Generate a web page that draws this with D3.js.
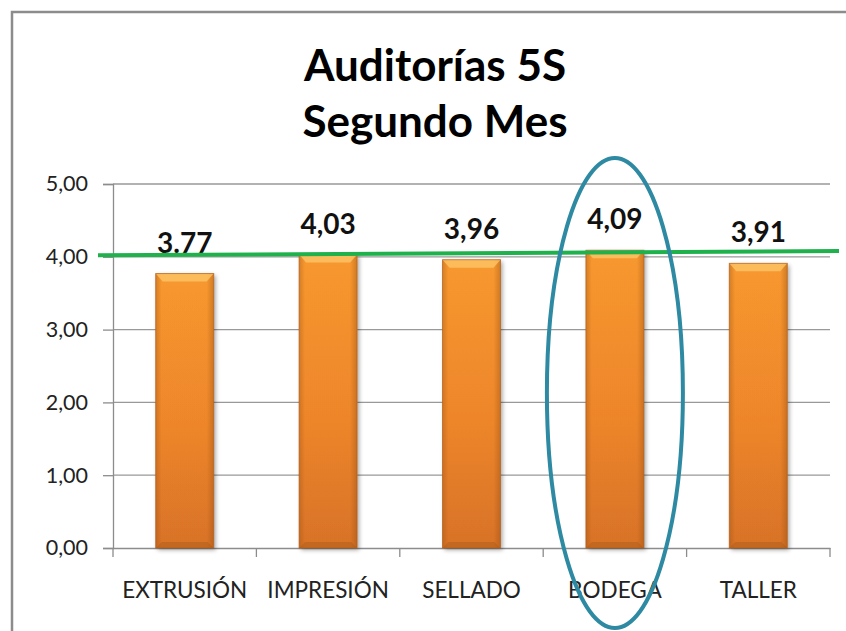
<!DOCTYPE html>
<html>
<head>
<meta charset="utf-8">
<script src="https://cdn.jsdelivr.net/npm/d3@7"></script>
<style>
  html, body { margin: 0; padding: 0; background: #fff; }
  svg { display: block; }
  .tick text { font-family: Lato, "Open Sans", sans-serif; fill: #222; }
</style>
</head>
<body>
<div id="chart"></div>
<script>
(function(){
"use strict";

var categories = ["EXTRUSIÓN", "IMPRESIÓN", "SELLADO", "BODEGA", "TALLER"];
var values = [3.77, 4.03, 3.96, 4.09, 3.91];
var labels = ["3.77", "4,03", "3,96", "4,09", "3,91"];
var yTicks = [0, 1, 2, 3, 4, 5];
var targetLine = [4.02, 4.08]; // green line, slightly tilted in the picture
var highlight = "BODEGA";

var width = 846, height = 631;
var margin = {top: 184, right: 16, bottom: 83, left: 113};
var fmt = function(d){ return d3.format(".2f")(d).replace(".", ","); };

var svg = d3.select("#chart").append("svg")
  .attr("width", width).attr("height", height);

var defs = svg.append("defs");
var g1 = defs.append("linearGradient").attr("id", "barFill")
  .attr("x1", 0).attr("y1", 0).attr("x2", 0).attr("y2", 1);
g1.append("stop").attr("offset", "0%").attr("stop-color", "#fd9c30");
g1.append("stop").attr("offset", "55%").attr("stop-color", "#f3892c");
g1.append("stop").attr("offset", "100%").attr("stop-color", "#dc7428");
var g2 = defs.append("linearGradient").attr("id", "barSide")
  .attr("x1", 0).attr("y1", 0).attr("x2", 1).attr("y2", 0);
g2.append("stop").attr("offset", "0%").attr("stop-color", "#8a4a10").attr("stop-opacity", 0.35);
g2.append("stop").attr("offset", "10%").attr("stop-color", "#8a4a10").attr("stop-opacity", 0.05);
g2.append("stop").attr("offset", "88%").attr("stop-color", "#8a4a10").attr("stop-opacity", 0.05);
g2.append("stop").attr("offset", "100%").attr("stop-color", "#8a4a10").attr("stop-opacity", 0.4);
var sh = defs.append("filter").attr("id", "shadow")
  .attr("x", "-20%").attr("y", "-5%").attr("width", "150%").attr("height", "115%");
sh.append("feDropShadow").attr("dx", 2).attr("dy", 2).attr("stdDeviation", 2)
  .attr("flood-color", "#000").attr("flood-opacity", 0.35);

// outer frame
svg.append("path")
  .attr("d", "M12," + height + "V12H" + width)
  .attr("fill", "none").attr("stroke", "#8c8c8c").attr("stroke-width", 2.5);

// title
var title = svg.append("text")
  .attr("x", 435).attr("text-anchor", "middle")
  .style("font-family", "Lato, sans-serif").style("font-weight", "bold")
  .style("font-size", "44px").attr("fill", "#000");
title.append("tspan").attr("x", 435).attr("y", 81).text("Auditorías 5S");
title.append("tspan").attr("x", 435).attr("y", 137).text("Segundo Mes");

var x = d3.scaleBand().domain(categories)
  .range([margin.left, width - margin.right]);
var y = d3.scaleLinear().domain([0, 5])
  .range([height - margin.bottom, margin.top]);

// gridlines
svg.append("g").selectAll("line").data(yTicks.slice(1)).enter().append("line")
  .attr("x1", margin.left).attr("x2", width - margin.right)
  .attr("y1", function(d){ return y(d); }).attr("y2", function(d){ return y(d); })
  .attr("stroke", "#999").attr("stroke-width", 1.3);

var yAxis = svg.append("g")
  .attr("transform", "translate(" + margin.left + ",0)")
  .call(d3.axisLeft(y).tickValues(yTicks).tickFormat(fmt).tickSizeOuter(0).tickSize(10).tickPadding(15));
yAxis.selectAll("text").style("font-size", "21.5px");
yAxis.selectAll("line, path").attr("stroke", "#8c8c8c").attr("stroke-width", 1.3);

var xAxis = svg.append("g")
  .attr("transform", "translate(0," + y(0) + ")")
  .call(d3.axisBottom(x).tickSize(0).tickSizeOuter(0).tickPadding(30));
xAxis.selectAll("text").style("font-size", "22.5px").attr("dy", "0.71em").attr("y", 34);
xAxis.select(".domain").attr("stroke", "#8c8c8c").attr("stroke-width", 1.3);
// category separator ticks
xAxis.selectAll(".sep").data(categories.concat([null])).enter().append("line")
  .attr("x1", function(d, i){ return margin.left + i * x.step(); })
  .attr("x2", function(d, i){ return margin.left + i * x.step(); })
  .attr("y1", 0).attr("y2", 9)
  .attr("stroke", "#8c8c8c").attr("stroke-width", 1.3);

// bars
var bw = 58;
var bars = svg.append("g").selectAll("g").data(values).enter().append("g")
  .attr("transform", function(d, i){
    return "translate(" + (x(categories[i]) + x.bandwidth() / 2 - bw / 2) + "," + y(d) + ")";
  });
bars.append("rect")
  .attr("width", bw).attr("height", function(d){ return y(0) - y(d); })
  .attr("fill", "url(#barFill)").attr("filter", "url(#shadow)");
bars.append("rect")
  .attr("width", bw).attr("height", function(d){ return y(0) - y(d); })
  .attr("fill", "url(#barSide)");
// top bevel
bars.append("path")
  .attr("d", "M0,0H" + bw + "L" + (bw - 7) + ",8H7Z")
  .attr("fill", "#ffc869").attr("opacity", 0.75);
// bottom bevel
bars.append("path")
  .attr("d", function(d){ var h = y(0) - y(d); return "M0," + h + "H" + bw + "L" + (bw - 6) + "," + (h - 6) + "H6Z"; })
  .attr("fill", "#a85a1a").attr("opacity", 0.45);
bars.append("rect")
  .attr("width", bw).attr("height", function(d){ return y(0) - y(d); })
  .attr("fill", "none").attr("stroke", "#b0601c").attr("stroke-width", 1).attr("stroke-opacity", 0.7);

// value labels
svg.append("g").selectAll("text").data(values).enter().append("text")
  .attr("x", function(d, i){ return x(categories[i]) + x.bandwidth() / 2; })
  .attr("y", function(d){ return y(d) - 21; })
  .attr("text-anchor", "middle")
  .style("font-family", "Lato, sans-serif").style("font-weight", "bold")
  .style("font-size", "28px").attr("fill", "#111")
  .text(function(d, i){ return labels[i]; });

// target line
svg.append("line")
  .attr("x1", 98).attr("x2", 839)
  .attr("y1", y(targetLine[0])).attr("y2", y(targetLine[1]))
  .attr("stroke", "#1fb14c").attr("stroke-width", 4);

// highlight ellipse
var hx = x(highlight) + x.bandwidth() / 2;
svg.append("ellipse")
  .attr("cx", hx).attr("cy", 393).attr("rx", 68).attr("ry", 235)
  .attr("fill", "none").attr("stroke", "#2e8aa2").attr("stroke-width", 4);

})();
</script>
</body>
</html>
